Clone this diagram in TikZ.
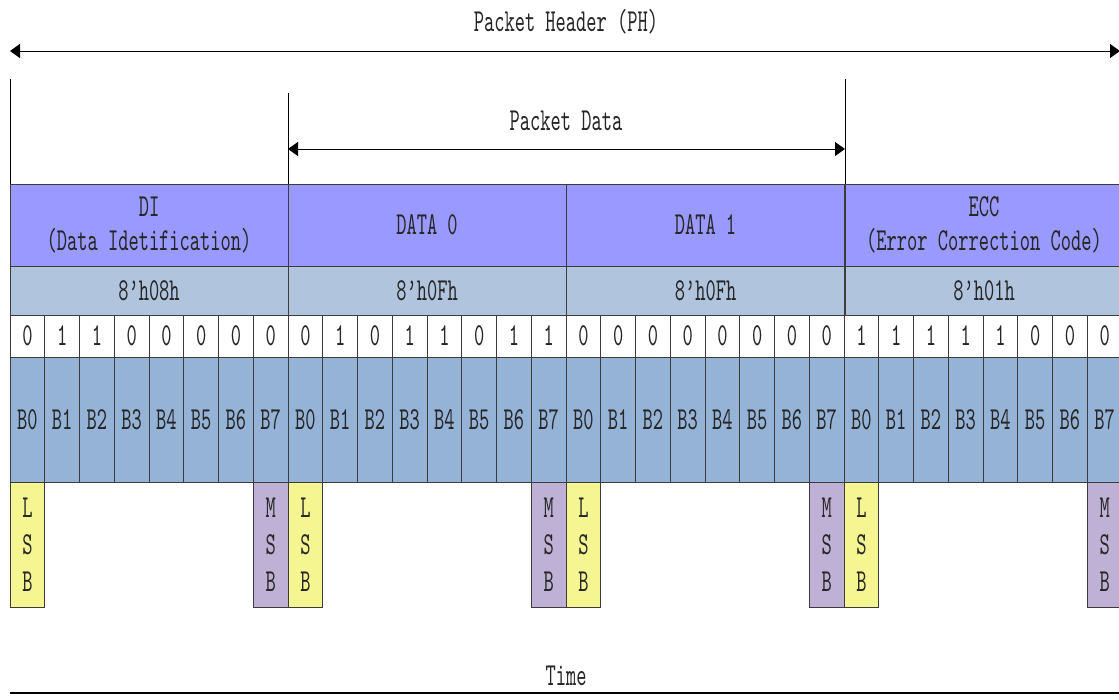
\documentclass[tikz,border=0pt]{standalone}
\usepackage{fontspec}
\newfontfamily\nf[FakeStretch=0.61]{lmmono10-regular.otf}
\usetikzlibrary{arrows.meta}
\definecolor{hdrcol}{RGB}{153,153,255}
\definecolor{hexcol}{RGB}{176,196,222}
\definecolor{bcol}{RGB}{149,179,215}
\definecolor{lsbcol}{RGB}{245,245,145}
\definecolor{msbcol}{RGB}{191,177,213}
\definecolor{edge}{RGB}{60,60,60}
\begin{document}
\begin{tikzpicture}[x=1pt,y=-1pt,
  txt/.style={font=\nf\fontsize{32}{34}\selectfont, text=black!85, inner sep=0pt, align=center},
  cell/.style={draw=edge, line width=0.9pt, inner sep=0pt, outer sep=0pt, anchor=north west,
    font=\nf\fontsize{32}{34}\selectfont, text=black!85, align=center},
  hdr/.style={cell, fill=hdrcol, minimum width=278pt, minimum height=82pt},
  hexbox/.style={cell, fill=hexcol, minimum width=278pt, minimum height=49pt},
  bitbox/.style={cell, fill=white, minimum width=34.75pt, minimum height=42pt},
  bbox/.style={cell, fill=bcol, minimum width=34.75pt, minimum height=125pt},
  lsbbox/.style={cell, fill=lsbcol, minimum width=34.75pt, minimum height=125pt, font=\nf\fontsize{32}{37}\selectfont},
  msbbox/.style={cell, fill=msbcol, minimum width=34.75pt, minimum height=125pt, font=\nf\fontsize{32}{37}\selectfont},
  dim/.style={line width=1pt, {Triangle[length=10pt,width=14pt]}-{Triangle[length=10pt,width=14pt]}},
  guide/.style={line width=1pt}
]
\useasboundingbox (0,0) rectangle (1119,699);
\clip (0,0) rectangle (1119,699);

% header row
\node[hdr] (di)  at (10,184)  {DI\\(Data Idetification)};
\node[hdr] (d0)  at (288,184) {DATA 0};
\node[hdr] (d1)  at (566.5,184) {DATA 1};
\node[hdr] (ecc) at (845,184) {ECC\\(Error Correction Code)};

% hex row
\node[hexbox] (h0) at (10,266)  {8’h08h};
\node[hexbox] (h1) at (288,266) {8’h0Fh};
\node[hexbox] (h2) at (566.5,266) {8’h0Fh};
\node[hexbox] (h3) at (845,266) {8’h01h};

% bits and bit names
\foreach \v [count=\n from 0] in {0,1,1,0,0,0,0,0, 0,1,0,1,1,0,1,1, 0,0,0,0,0,0,0,0, 1,1,1,1,1,0,0,0}{
  \pgfmathsetmacro\xx{10+\n*34.75}
  \pgfmathtruncatemacro\j{mod(\n,8)}
  \node[bitbox] (v\n) at (\xx,315) {\v};
  \node[bbox] (b\n) at (\xx,357) {B\j};
}

% LSB / MSB markers
\foreach \k in {0,1,2,3}{
  \pgfmathsetmacro\xl{10+\k*278}
  \pgfmathsetmacro\xm{10+\k*278+7*34.75}
  \node[lsbbox] (lsb\k) at (\xl,482) {L\\S\\B};
  \node[msbbox] (msb\k) at (\xm,482) {M\\S\\B};
}

% guide lines and dimension arrows
\coordinate (gl) at (10,79);
\coordinate (gm) at (288,93);
\coordinate (gr) at (845,79);
\draw[guide] (gl) -- (di.north west);
\draw[guide] (gm) -- (d0.north west);
\draw[guide] (gr) -- (ecc.north west);

\coordinate (phL) at (10,51);
\coordinate (phR) at (1120,51);
\draw[dim] (phL) -- (phR);
\node[txt] (phlabel) at (566,22) {Packet Header (PH)};

\coordinate (pdL) at (288,149);
\coordinate (pdR) at (845,149);
\draw[dim] (pdL) -- (pdR);
\node[txt] (pdlabel) at (566,121) {Packet Data};

\node[txt] (time) at (566,676) {Time};
\coordinate (tL) at (10,693);
\coordinate (tR) at (1125,693);
\draw[line width=1.3pt] (tL) -- (tR);
\end{tikzpicture}
\end{document}
